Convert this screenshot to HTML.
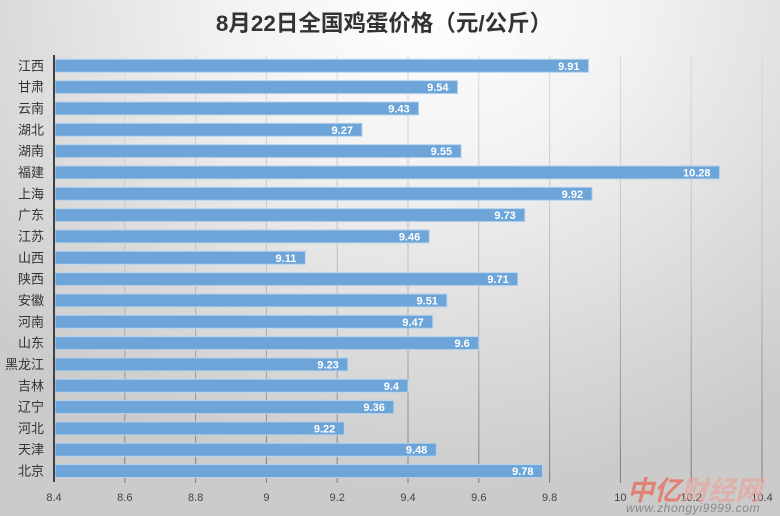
<!DOCTYPE html>
<html><head><meta charset="utf-8"><style>
html,body{margin:0;padding:0;}
body{width:780px;height:516px;overflow:hidden;background:radial-gradient(ellipse 75% 95% at 55% 0%,#ffffff 0%,#f2f2f2 35%,#dcdcdc 70%,#cbcbcb 100%);font-family:"Liberation Sans","Noto Sans CJK SC",sans-serif;}
svg{display:block;}
</style></head><body>
<svg width="780" height="516" viewBox="0 0 780 516" xmlns="http://www.w3.org/2000/svg">
<defs>
<linearGradient id="gl" gradientUnits="userSpaceOnUse" x1="0" y1="56" x2="0" y2="483">
<stop offset="0" stop-color="#dadada"/><stop offset="0.5" stop-color="#bdbdbd"/><stop offset="1" stop-color="#7a7a7a"/>
</linearGradient>
</defs>
<text x="384" y="31" text-anchor="middle" font-size="22.5" font-weight="bold" fill="#333" font-family="Liberation Sans,Noto Sans CJK SC,sans-serif">8月22日全国鸡蛋价格（元/公斤）</text>
<g stroke="url(#gl)" stroke-width="1">
<line x1="124.8" y1="56" x2="124.8" y2="483"/>
<line x1="195.6" y1="56" x2="195.6" y2="483"/>
<line x1="266.4" y1="56" x2="266.4" y2="483"/>
<line x1="337.2" y1="56" x2="337.2" y2="483"/>
<line x1="408" y1="56" x2="408" y2="483"/>
<line x1="478.8" y1="56" x2="478.8" y2="483"/>
<line x1="549.6" y1="56" x2="549.6" y2="483"/>
<line x1="620.4" y1="56" x2="620.4" y2="483"/>
<line x1="691.2" y1="56" x2="691.2" y2="483"/>
<line x1="762" y1="56" x2="762" y2="483"/>
</g>
<g id="bars" fill="#6ea5d8" stroke="#b9d3ec" stroke-width="1"></g>
<g id="vals" fill="#fff" font-size="11" font-weight="bold" text-anchor="end"></g>
<g id="cats" fill="#333" font-size="13" text-anchor="end"></g>
<line x1="54" y1="55" x2="54" y2="482" stroke="#404040" stroke-width="2"/>
<g fill="#444" font-size="11" text-anchor="middle">
<text x="54" y="501">8.4</text><text x="124.8" y="501">8.6</text><text x="195.6" y="501">8.8</text><text x="266.4" y="501">9</text><text x="337.2" y="501">9.2</text><text x="408" y="501">9.4</text><text x="478.8" y="501">9.6</text><text x="549.6" y="501">9.8</text><text x="620.4" y="501">10</text><text x="691.2" y="501">10.2</text><text x="762" y="501">10.4</text>
</g>
<text x="627" y="500" font-size="27" font-weight="bold" font-style="italic" fill="#e8634f" fill-opacity="0.7" font-family="Noto Sans CJK SC,sans-serif">中亿<tspan fill="#eaa39a" fill-opacity="0.7">财经网</tspan></text>
<text x="626" y="512" font-size="12" font-style="italic" fill="#888" letter-spacing="0.6">www.zhongyi9999.com</text>
</svg>
<script>
var d=[["江西",9.91],["甘肃",9.54],["云南",9.43],["湖北",9.27],["湖南",9.55],["福建",10.28],["上海",9.92],["广东",9.73],["江苏",9.46],["山西",9.11],["陕西",9.71],["安徽",9.51],["河南",9.47],["山东",9.6],["黑龙江",9.23],["吉林",9.4],["辽宁",9.36],["河北",9.22],["天津",9.48],["北京",9.78]];
var ns="http://www.w3.org/2000/svg",b=document.getElementById("bars"),v=document.getElementById("vals"),c=document.getElementById("cats");
d.forEach(function(r,i){var cy=65.8+21.33*i,x2=54+(r[1]-8.4)*354;
var e=document.createElementNS(ns,"rect");e.setAttribute("x",55);e.setAttribute("y",cy-6.5);e.setAttribute("width",x2-55);e.setAttribute("height",13);b.appendChild(e);
var t=document.createElementNS(ns,"text");t.setAttribute("x",x2-9);t.setAttribute("y",cy+4);t.textContent=String(r[1]);v.appendChild(t);
var l=document.createElementNS(ns,"text");l.setAttribute("x",44);l.setAttribute("y",cy+4.5);l.textContent=r[0];c.appendChild(l);});
</script>
</body></html>
